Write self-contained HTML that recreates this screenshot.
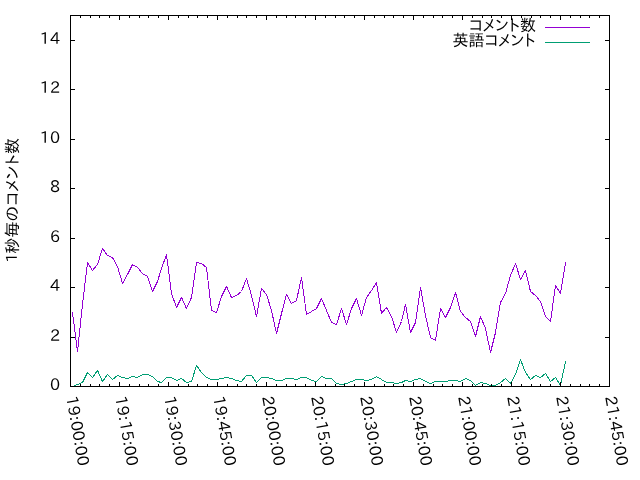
<!DOCTYPE html>
<html><head><meta charset="utf-8"><style>
html,body{margin:0;padding:0;background:#fff;width:640px;height:480px;overflow:hidden}
svg{display:block;will-change:transform}
text{font-family:"IPAPGothic","IPAGothic","Liberation Sans",sans-serif;font-size:16px;fill:#000}
</style></head><body>
<svg width="640" height="480" viewBox="0 0 640 480">
<rect width="640" height="480" fill="#fff"/>
<polyline points="72.5,312.5 77.5,351.5 82.5,304.5 87.5,262.5 92.5,270.5 97.5,264.5 102.5,248.5 107.5,255.5 112.5,257.5 117.5,266.5 122.5,283.5 127.5,274.5 132.5,264.5 137.5,267.5 142.5,273.5 147.5,276.5 152.5,291.5 157.5,281.5 161.5,268.5 166.5,254.5 171.5,293.5 176.5,307.5 181.5,297.5 186.5,308.5 191.5,297.5 196.5,262.5 201.5,263.5 206.5,267.5 211.5,310.5 216.5,312.5 221.5,296.5 226.5,286.5 231.5,297.5 236.5,295.5 241.5,291.5 246.5,278.5 251.5,295.5 256.5,316.5 261.5,288.5 266.5,294.5 271.5,310.5 276.5,333.5 281.5,313.5 286.5,294.5 291.5,303.5 296.5,300.5 301.5,277.5 306.5,314.5 311.5,311.5 316.5,308.5 321.5,298.5 326.5,310.5 331.5,322.5 336.5,324.5 341.5,308.5 346.5,324.5 351.5,308.5 356.5,298.5 361.5,315.5 366.5,297.5 371.5,290.5 376.5,282.5 381.5,313.5 386.5,307.5 391.5,316.5 396.5,332.5 401.5,321.5 405.5,304.5 410.5,332.5 415.5,322.5 420.5,287.5 425.5,315.5 430.5,337.5 435.5,340.5 440.5,308.5 445.5,317.5 450.5,307.5 455.5,292.5 460.5,311.5 465.5,317.5 470.5,321.5 475.5,336.5 480.5,316.5 485.5,328.5 490.5,352.5 495.5,332.5 500.5,302.5 505.5,293.5 510.5,275.5 515.5,263.5 520.5,279.5 525.5,270.5 530.5,291.5 535.5,295.5 540.5,301.5 545.5,316.5 550.5,321.5 555.5,285.5 560.5,293.5 565.5,262.5" fill="none" stroke="#9400d3" stroke-width="1" shape-rendering="crispEdges" stroke-linejoin="round"/>
<polyline points="72.5,386.5 77.5,384.5 82.5,382.5 87.5,372.5 92.5,377.5 97.5,370.5 102.5,381.5 107.5,374.5 112.5,379.5 117.5,375.5 122.5,377.5 127.5,378.5 132.5,376.5 137.5,377.5 142.5,374.5 147.5,374.5 152.5,376.5 157.5,381.5 161.5,382.5 166.5,377.5 171.5,377.5 176.5,380.5 181.5,378.5 186.5,382.5 191.5,381.5 196.5,365.5 201.5,372.5 206.5,377.5 211.5,379.5 216.5,379.5 221.5,378.5 226.5,377.5 231.5,378.5 236.5,380.5 241.5,381.5 246.5,375.5 251.5,375.5 256.5,382.5 261.5,377.5 266.5,377.5 271.5,378.5 276.5,380.5 281.5,380.5 286.5,378.5 291.5,378.5 296.5,379.5 301.5,377.5 306.5,377.5 311.5,380.5 316.5,381.5 321.5,376.5 326.5,378.5 331.5,378.5 336.5,383.5 341.5,384.5 346.5,383.5 351.5,381.5 356.5,379.5 361.5,379.5 366.5,380.5 371.5,379.5 376.5,376.5 381.5,379.5 386.5,382.5 391.5,382.5 396.5,383.5 401.5,382.5 405.5,380.5 410.5,381.5 415.5,379.5 420.5,378.5 425.5,381.5 430.5,383.5 435.5,381.5 440.5,381.5 445.5,381.5 450.5,380.5 455.5,380.5 460.5,381.5 465.5,378.5 470.5,380.5 475.5,385.5 480.5,382.5 485.5,383.5 490.5,385.5 495.5,385.5 500.5,382.5 505.5,378.5 510.5,383.5 515.5,374.5 520.5,359.5 525.5,372.5 530.5,379.5 535.5,375.5 540.5,377.5 545.5,373.5 550.5,381.5 555.5,377.5 560.5,385.5 565.5,361.5" fill="none" stroke="#009e73" stroke-width="1" shape-rendering="crispEdges" stroke-linejoin="round"/>
<path d="M70 386.5h5M610 386.5h-5M70 337.5h5M610 337.5h-5M70 287.5h5M610 287.5h-5M70 238.5h5M610 238.5h-5M70 188.5h5M610 188.5h-5M70 139.5h5M610 139.5h-5M70 89.5h5M610 89.5h-5M70 40.5h5M610 40.5h-5M70.5 387v-5M70.5 15v5M80.5 387v-3M80.5 15v3M90.5 387v-3M90.5 15v3M99.5 387v-3M99.5 15v3M109.5 387v-3M109.5 15v3M119.5 387v-5M119.5 15v5M129.5 387v-3M129.5 15v3M139.5 387v-3M139.5 15v3M148.5 387v-3M148.5 15v3M158.5 387v-3M158.5 15v3M168.5 387v-5M168.5 15v5M178.5 387v-3M178.5 15v3M188.5 387v-3M188.5 15v3M197.5 387v-3M197.5 15v3M207.5 387v-3M207.5 15v3M217.5 387v-5M217.5 15v5M227.5 387v-3M227.5 15v3M237.5 387v-3M237.5 15v3M246.5 387v-3M246.5 15v3M256.5 387v-3M256.5 15v3M266.5 387v-5M266.5 15v5M276.5 387v-3M276.5 15v3M286.5 387v-3M286.5 15v3M295.5 387v-3M295.5 15v3M305.5 387v-3M305.5 15v3M315.5 387v-5M315.5 15v5M325.5 387v-3M325.5 15v3M335.5 387v-3M335.5 15v3M344.5 387v-3M344.5 15v3M354.5 387v-3M354.5 15v3M364.5 387v-5M364.5 15v5M374.5 387v-3M374.5 15v3M384.5 387v-3M384.5 15v3M393.5 387v-3M393.5 15v3M403.5 387v-3M403.5 15v3M413.5 387v-5M413.5 15v5M423.5 387v-3M423.5 15v3M433.5 387v-3M433.5 15v3M442.5 387v-3M442.5 15v3M452.5 387v-3M452.5 15v3M462.5 387v-5M462.5 15v5M472.5 387v-3M472.5 15v3M482.5 387v-3M482.5 15v3M491.5 387v-3M491.5 15v3M501.5 387v-3M501.5 15v3M511.5 387v-5M511.5 15v5M521.5 387v-3M521.5 15v3M531.5 387v-3M531.5 15v3M540.5 387v-3M540.5 15v3M550.5 387v-3M550.5 15v3M560.5 387v-5M560.5 15v5M570.5 387v-3M570.5 15v3M580.5 387v-3M580.5 15v3M589.5 387v-3M589.5 15v3M599.5 387v-3M599.5 15v3M609.5 387v-5M609.5 15v5" stroke="#000" fill="none"/>
<rect x="70.5" y="15.5" width="539" height="371" fill="none" stroke="#000"/>
<text x="60" y="390" text-anchor="end">0</text>
<text x="60" y="341" text-anchor="end">2</text>
<text x="60" y="291" text-anchor="end">4</text>
<text x="60" y="242" text-anchor="end">6</text>
<text x="60" y="192" text-anchor="end">8</text>
<text x="60" y="143" text-anchor="end">10</text>
<text x="60" y="93" text-anchor="end">12</text>
<text x="60" y="44" text-anchor="end">14</text>
<text transform="translate(66 397) rotate(80)">19:00:00</text>
<text transform="translate(115 397) rotate(80)">19:15:00</text>
<text transform="translate(164 397) rotate(80)">19:30:00</text>
<text transform="translate(213 397) rotate(80)">19:45:00</text>
<text transform="translate(262 397) rotate(80)">20:00:00</text>
<text transform="translate(311 397) rotate(80)">20:15:00</text>
<text transform="translate(360 397) rotate(80)">20:30:00</text>
<text transform="translate(409 397) rotate(80)">20:45:00</text>
<text transform="translate(458 397) rotate(80)">21:00:00</text>
<text transform="translate(507 397) rotate(80)">21:15:00</text>
<text transform="translate(556 397) rotate(80)">21:30:00</text>
<text transform="translate(605 397) rotate(80)">21:45:00</text>
<text transform="translate(17 262.6) rotate(-90)" style="font-size:15px">1</text>
<text transform="translate(18 253.7) rotate(-90)" letter-spacing="0.15">秒毎のコメント数</text>
<text x="536" y="31" text-anchor="end">コメント数</text>
<text x="535.5" y="46" text-anchor="end">英語コメント</text>
<path d="M545 27.5h45" stroke="#9400d3"/>
<path d="M545 42.5h45" stroke="#009e73"/>
</svg>
</body></html>
